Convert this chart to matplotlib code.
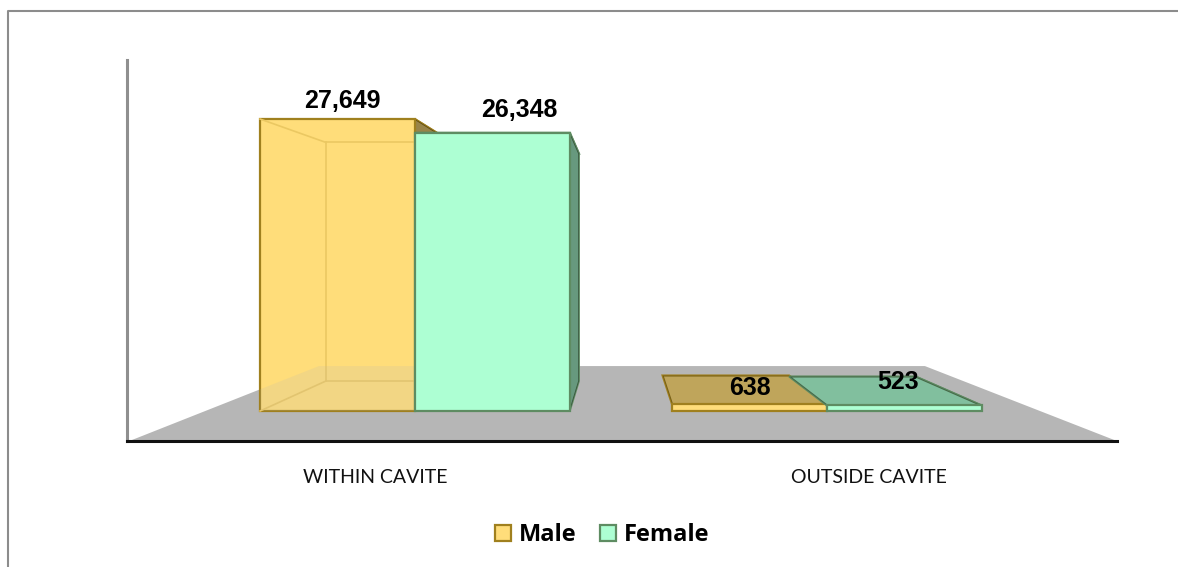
import numpy as np
import matplotlib
matplotlib.use("Agg")
import matplotlib.pyplot as plt
from matplotlib.patches import Polygon, Patch
from matplotlib.lines import Line2D

# -----------------------------
# Data
# -----------------------------
categories = ["WITHIN CAVITE", "OUTSIDE CAVITE"]
male = [27649, 638]
female = [26348, 523]
series_names = ["Male", "Female"]

# -----------------------------
# Colours and fake-3D setup
# -----------------------------
W, H = 1178, 567
yellow, yellow_edge = "#FFDD7A", "#A0801E"
green, green_edge = "#ADFFD3", "#5E8C62"
floor_col = "#B6B6B6"

bar_w = 0.376            # width of one bar, category units
vx, vy = 0.4976, 15530   # vanishing point
depth = 0.183            # depth of a bar
floor_l, floor_r = -0.509, 1.517
floor_front, floor_back = -0.183, 0.274

# label offsets in points from the top centre of each bar
male_off = [(3.6, 8), (0, 7)]
female_off = [(19.5, 11.5), (-4.5, 12)]


def proj(x, y, d):
    return x + (vx - x) * d, y + (vy - y) * d


def box(ax, x0, x1, h, col, edge, z):
    side = [proj(x1, 0, 0), proj(x1, h, 0), proj(x1, h, depth), proj(x1, 0, depth)]
    top = [proj(x0, h, 0), proj(x1, h, 0), proj(x1, h, depth), proj(x0, h, depth)]
    # tall boxes are seen from below, low ones from above
    z_top = z + 0.1 if h < vy else z
    z_side = z if h < vy else z + 0.1
    ax.add_patch(Polygon(side, fc=col, ec=edge, lw=1.2, zorder=z_side))
    ax.add_patch(Polygon(side, fc="#000000", alpha=0.4, ec="none", zorder=z_side))
    ax.add_patch(Polygon(top, fc=col, ec=edge, lw=1.5, zorder=z_top))
    ax.add_patch(Polygon(top, fc="#000000", alpha=0.25, ec="none", zorder=z_top))
    ax.add_patch(Polygon([(x0, 0), (x1, 0), (x1, h), (x0, h)], fc=col, ec=edge, lw=1.6,
                         zorder=z + 0.5))


fig = plt.figure(figsize=(W / 100, H / 100), dpi=100)
fig.patch.set_facecolor("white")

# chart frame, only top and left show
fig.add_artist(Line2D([7.5 / W, 7.5 / W, 1], [0, 1 - 10.5 / H, 1 - 10.5 / H],
                      color="#8C8C8C", lw=1.5))

ax = fig.add_axes([127 / W, 1 - 441 / H, 990 / W, 381 / H])
ax.set_xlim(-0.699, 1.704)
ax.set_ylim(-2841, 33239)
ax.patch.set_alpha(0)
for s in ["top", "right"]:
    ax.spines[s].set_visible(False)
ax.spines["left"].set_color("#8F8F8F")
ax.spines["left"].set_linewidth(2.2)
ax.spines["bottom"].set_color("#111111")
ax.spines["bottom"].set_linewidth(2.2)
ax.set_yticks([])
ax.set_xticks([-0.097, 1.102], categories)
ax.tick_params(axis="x", length=0, pad=20, labelsize=14)
for lab in ax.get_xticklabels():
    lab.set_fontfamily(["Lato", "DejaVu Sans"])
    lab.set_color("#111111")

# floor
ax.add_patch(Polygon([proj(floor_l, 0, floor_front), proj(floor_r, 0, floor_front),
                      proj(floor_r, 0, floor_back), proj(floor_l, 0, floor_back)],
                     fc=floor_col, ec="none", zorder=1))

label_font = ["Liberation Sans Narrow", "Liberation Sans", "DejaVu Sans"]
for i in range(len(categories)):
    box(ax, i - bar_w, i, male[i], yellow, yellow_edge, 2)
    box(ax, i, i + bar_w, female[i], green, green_edge, 3)

    # inner back edges and the floor show through the male front face
    if male[i] > vy:
        x_in = i - bar_w
        bx0, by0 = proj(x_in, 0, depth)
        bx1, by1 = proj(x_in, male[i], depth)
        c = "#EBC862"
        for xs, ys in [([bx0, bx1], [by0, by1]), ([x_in, bx1], [male[i], by1]),
                       ([x_in, bx0], [0, by0]), ([bx1, i], [by1, by1]), ([bx0, i], [by0, by0])]:
            ax.plot(xs, ys, color=c, lw=1.2, zorder=2.8)
        # where the floor's left edge crosses the front face
        d_hit = (x_in - floor_l) / (vx - floor_l)
        y_hit = proj(x_in, 0, d_hit)[1]
        fx, fy = proj(floor_l, 0, floor_back)
        ax.add_patch(Polygon([(x_in, 0), (i, 0), (i, fy), (fx, fy), (x_in, y_hit)],
                             fc=floor_col, alpha=0.17, ec="none", zorder=2.8))

    for x, v, off in [(i - bar_w / 2, male[i], male_off[i]),
                      (i + bar_w / 2, female[i], female_off[i])]:
        ax.annotate(f"{v:,}", (x, v), xytext=off, textcoords="offset points",
                    ha="center", va="baseline", fontsize=18, fontweight="bold",
                    family=label_font, zorder=6)

handles = [Patch(fc=yellow, ec=yellow_edge, lw=1.6, label=series_names[0]),
           Patch(fc=green, ec=green_edge, lw=1.6, label=series_names[1])]
fig.legend(handles=handles, loc="center", bbox_to_anchor=(602 / W, 1 - 535 / H), ncol=2,
           frameon=False, prop={"family": ["Open Sans", "DejaVu Sans"], "weight": "bold", "size": 17},
           handlelength=0.68, handleheight=0.68, handletextpad=0.33, columnspacing=1.0)

fig.savefig("out.png", dpi=100)
